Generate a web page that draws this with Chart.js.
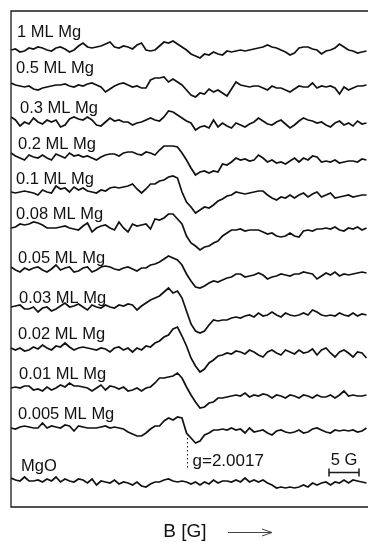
<!DOCTYPE html>
<html>
<head>
<meta charset="utf-8">
<script src="https://cdn.jsdelivr.net/npm/chart.js@4.4.0/dist/chart.umd.min.js"></script>
<style>
  html, body { margin: 0; padding: 0; background: #fff; }
  canvas { display: block; }
</style>
</head>
<body>
<canvas id="epr" width="368" height="542"></canvas>
<script>
// sample names, top to bottom
var samples = ['1 ML Mg', '0.5 ML Mg', '0.3 ML Mg', '0.2 ML Mg', '0.1 ML Mg', '0.08 ML Mg',
               '0.05 ML Mg', '0.03 ML Mg', '0.02 ML Mg', '0.01 ML Mg', '0.005 ML Mg', 'MgO'];

// vertical stacking of each spectrum (signal units)
var offsets = [457, 420, 386, 350, 317, 279, 239, 200, 159, 119, 79, 27];

// field step between samples, in G
var fieldStep = 0.75;

// spectra (derivative signal, arb. units)
var s1ML = [0,1,-2,-1,2,1,3,2,0,-1, 2,3,1,-2,0,4,7,3,2,3, 4,6,8,3,2,4,3,1,5,7,
  0,-1,0,4,8,7,9,6,3,0, -4,-6,-8,-4,-5,-2,-4,-5,-1,-2, -1,0,-1,0,1,2,3,5,3,2,
  0,-2,-5,-3,2,3,3,1,0,-4, -1,0,2,6,3,0,-1,-3,-2,-1];
var s05ML = [4,2,1,0,1,-2,-3,-1,0,1, 2,2,3,1,0,2,1,3,4,2, 0,-5,-2,1,3,4,2,0,1,-1,
  -1,7,9,9,10,5,8,5,2,-3, -8,-10,-6,-7,-2,-5,-3,-6,-9,-2, 5,2,1,0,1,1,-1,-3,1,-1,
  -1,-3,-5,-2,1,0,0,4,-1,1, 0,1,-1,-7,0,-3,-1,1,1,2];
var s03ML = [4,1,-5,-1,-3,3,-1,-3,1,-1, 1,-6,-4,2,4,2,1,4,1,-4, -5,-1,3,0,1,-1,-1,-4,-2,-1,
  1,3,1,0,4,10,9,6,3,0, -2,-9,-6,-5,-7,1,-6,-2,-5,-7, -2,-4,-6,-3,-1,3,0,-3,-4,-1,
  1,-3,-7,-4,0,3,1,0,-2,-1, -4,-6,-2,0,-4,-2,-5,0,-3,-2];
var s02ML = [4,1,-1,-3,2,0,-1,2,-1,-3, 3,1,-1,4,1,2,0,1,-1,-3, 0,2,3,3,1,4,5,5,3,2,
  5,4,2,7,11,11,11,10,4,-3, -11,-18,-15,-14,-16,-14,-15,-7,-8,-5, -1,-3,-2,-4,-3,2,-1,-5,-3,-6,
  -5,-7,-4,-1,-5,-1,-3,1,0,-5, -4,-5,-3,-6,-5,-4,-4,-5,-2,-3];
var s01ML = [-2,-3,-2,-1,-2,-3,-5,0,-2,-3, 4,1,2,-2,3,0,2,-1,-2,-3, 0,-1,2,3,2,3,4,6,1,-3,
  1,6,6,9,10,13,14,12,-2,-12, -17,-23,-20,-17,-18,-15,-11,-9,-6,-5, -2,-3,-4,-3,-2,-1,-1,-5,-8,-10,
  -7,-8,-5,-8,-5,-3,-7,-4,-2,-7, -5,-3,-8,-7,-6,-5,-7,-6,-5,-5];
var s008ML = [0,1,4,3,4,6,5,3,0,0, 0,1,2,0,-1,-2,2,5,-4,0, 2,3,0,-2,6,0,-4,4,2,3,
  4,-1,9,8,10,14,14,9,4,-8, -15,-18,-22,-19,-18,-15,-13,-8,-5,-2, -2,-1,-3,-2,-2,-2,-4,-6,-5,-8,
  -9,-8,-5,-8,-9,-3,-2,-3,-1,-1, 0,-1,1,-2,-3,0,-1,1,-2,0];
var s005ML = [1,-2,-4,0,-2,0,1,-2,-4,-1, 3,-2,0,1,-4,-3,0,1,-4,-2, 1,2,1,-1,-2,0,1,-1,-3,0,
  0,3,4,6,9,12,10,8,3,-6, -13,-19,-20,-18,-15,-13,-14,-12,-10,-9, -6,-6,-9,-8,-7,-5,-7,-11,-9,-8,
  -6,-7,-8,-6,-6,-4,-5,-6,-11,-8, -5,-7,-4,-8,-6,-7,-6,-5,-4,-5];
var s003ML = [0,1,2,-2,-2,0,-5,-1,0,-4, -2,1,4,0,1,3,0,-3,2,0, -1,2,0,-1,2,1,3,2,-3,1,
  4,7,9,11,15,19,14,16,9,-4, -17,-24,-26,-24,-18,-13,-14,-13,-13,-11, -10,-11,-9,-8,-10,-6,-9,-8,-5,-8,
  -10,-6,-8,-9,-8,-6,-8,-3,-5,-8, -9,-8,-9,-6,-8,-9,-6,-9,-7,-8];
var s002ML = [0,-2,0,-3,-2,1,-1,3,0,-2, 2,1,5,1,-2,0,1,0,-1,-2, 0,-1,-4,0,1,-2,0,-4,0,-2,
  2,1,5,7,11,13,19,21,12,2, -10,-18,-24,-21,-15,-12,-8,-7,-5,-6, -3,-4,-6,-2,-4,-7,-9,-4,-2,-5,
  -7,-2,-4,-6,-2,-5,-4,-1,-7,-2, 0,-5,-9,-4,-2,-5,-9,-4,-5,-10];
var s001ML = [0,1,0,2,2,-2,-1,-3,1,-2, 0,3,1,5,2,2,1,0,-3,0, 3,-2,2,1,-1,1,-3,-2,0,-3,
  0,1,5,10,10,11,12,15,10,1, -7,-14,-20,-19,-15,-14,-10,-10,-9,-8, -7,-8,-5,-9,-7,-8,-6,-7,-10,-7,
  -8,-10,-7,-8,-10,-7,-8,-10,-7,-9, -9,-7,-10,-7,-3,-8,-7,-8,-8,-7];
var s0005ML = [0,-1,1,2,1,0,0,5,0,2, 1,0,3,2,-3,2,1,0,0,0, 1,2,0,1,0,-1,-4,-6,-8,-8,
  -5,-1,2,2,7,10,8,11,10,-5, -10,-15,-13,-7,-5,-2,-2,-1,-2,0, -2,-1,-5,0,-4,-3,-2,-5,-7,-3,
  -2,-4,-5,-4,-2,-5,-4,-1,0,-2, -4,-5,-2,-3,-2,-3,-2,-4,-3,0];
var sMgO = [2,0,-1,3,-1,-1,0,-2,1,-1, 3,-2,1,-1,-2,1,0,-3,1,-5, -1,-2,-3,0,-4,-2,-3,-5,-2,-6,
  -7,-4,-2,-2,0,1,-1,-2,-1,-2, -4,-2,-5,-2,-4,0,-3,-1,-1,-2, 0,-2,2,-2,0,-2,0,-3,-5,-8,
  -7,-8,-7,-8,-7,-5,-7,-3,-5,-3, -2,-5,-2,-3,0,-3,0,-1,-2,-3];

var spectra = [s1ML, s05ML, s03ML, s02ML, s01ML, s008ML, s005ML, s003ML, s002ML, s001ML, s0005ML, sMgO];

// g-marker field and scale bar (G)
var gField = 29.3;
var gText = 'g=2.0017';
var barStart = 53, barLen = 5;

// label placement (px)
var labelX = [17, 16, 20, 18, 16, 16, 18, 19, 18, 19, 18, 21];
var labelLift = [19, 20, 14, 14, 12, 15, 11, 10, 15, 15, 15, 15];

var FONT = '"Liberation Sans", Arial, Helvetica, sans-serif';

var datasets = spectra.map(function (vals, k) {
  return {
    label: samples[k],
    data: vals.map(function (v, i) { return { x: i * fieldStep, y: offsets[k] + v }; }),
    borderColor: '#111',
    borderWidth: 1.7,
    pointRadius: 0,
    tension: 0,
    fill: false
  };
});

var decor = {
  id: 'decor',
  afterDraw: function (chart) {
    var ctx = chart.ctx, a = chart.chartArea;
    var xs = chart.scales.x, ys = chart.scales.y;
    ctx.save();

    // frame
    ctx.strokeStyle = '#1a1a1a';
    ctx.lineWidth = 1.3;
    ctx.beginPath();
    ctx.moveTo(a.right, a.top);
    ctx.lineTo(a.left, a.top);
    ctx.lineTo(a.left, a.bottom);
    ctx.lineTo(a.right, a.bottom);
    ctx.stroke();

    // sample labels
    ctx.fillStyle = '#111';
    ctx.font = '16.5px ' + FONT;
    ctx.textBaseline = 'alphabetic';
    ctx.textAlign = 'left';
    samples.forEach(function (s, k) {
      ctx.fillText(s, labelX[k], ys.getPixelForValue(offsets[k]) - labelLift[k] + 6);
    });

    // dotted g-marker
    var gx = Math.round(xs.getPixelForValue(gField)) + 0.5;
    ctx.lineWidth = 1;
    ctx.setLineDash([1.5, 2.5]);
    ctx.beginPath();
    ctx.moveTo(gx, ys.getPixelForValue(offsets[10] - 6));
    ctx.lineTo(gx, ys.getPixelForValue(offsets[10] - 42));
    ctx.stroke();
    ctx.setLineDash([]);

    ctx.font = '17px ' + FONT;
    ctx.fillText(gText, gx + 5, ys.getPixelForValue(offsets[10] - 38));

    // 5 G scale bar
    var bx0 = xs.getPixelForValue(barStart), bx1 = xs.getPixelForValue(barStart + barLen);
    var by = Math.round(ys.getPixelForValue(35)) + 0.5;
    ctx.lineWidth = 1.5;
    ctx.beginPath();
    ctx.moveTo(bx0, by); ctx.lineTo(bx1, by);
    ctx.moveTo(bx0, by - 4); ctx.lineTo(bx0, by + 4);
    ctx.moveTo(bx1, by - 4); ctx.lineTo(bx1, by + 4);
    ctx.stroke();
    ctx.font = '16.5px ' + FONT;
    ctx.textAlign = 'center';
    ctx.fillText(barLen + ' G', (bx0 + bx1) / 2, by - 8);

    // axis title with arrow
    ctx.font = '19px ' + FONT;
    ctx.fillText('B [G]', 185, 537);
    ctx.strokeStyle = '#444';
    ctx.lineWidth = 1;
    ctx.beginPath();
    ctx.moveTo(228, 532.5); ctx.lineTo(272, 532.5);
    ctx.moveTo(272, 532.5); ctx.lineTo(262, 529);
    ctx.moveTo(272, 532.5); ctx.lineTo(262, 536);
    ctx.stroke();

    ctx.restore();
  }
};

new Chart(document.getElementById('epr').getContext('2d'), {
  type: 'line',
  data: { datasets: datasets },
  options: {
    responsive: false,
    animation: false,
    devicePixelRatio: 1,
    layout: { padding: { left: 11, top: 11, right: 0, bottom: 35 } },
    plugins: { legend: { display: false }, tooltip: { enabled: false } },
    scales: {
      x: { type: 'linear', min: 0, max: 59.5, display: false },
      y: { type: 'linear', min: 0, max: 496, display: false }
    }
  },
  plugins: [decor]
});
</script>
</body>
</html>
